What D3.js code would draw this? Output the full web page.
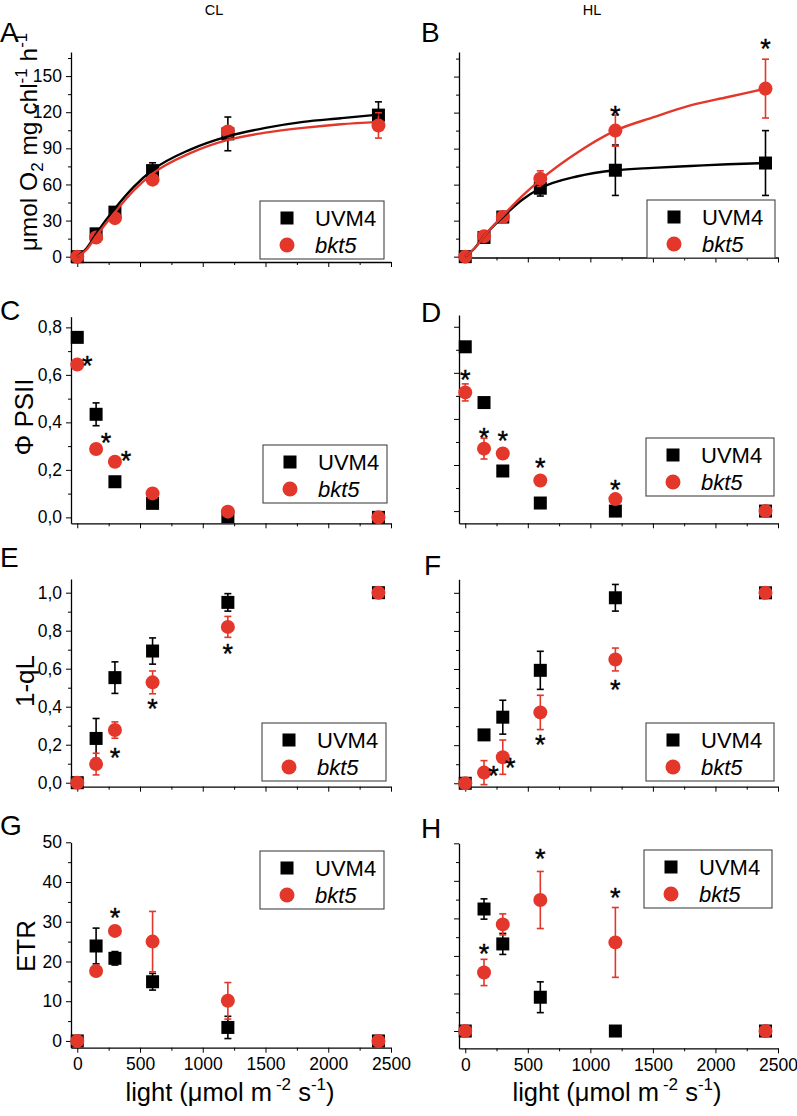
<!DOCTYPE html>
<html><head><meta charset="utf-8">
<script src="https://cdn.jsdelivr.net/npm/d3@7"></script>
<style>
body{margin:0;background:#fff}
text{font-family:Arial,"Liberation Sans",Helvetica,sans-serif;fill:#000}
</style>
</head><body>
<svg id="chart" width="797" height="1116"></svg>
<script>
// ---------------- DATA ----------------
const light = [0, 150, 300, 600, 1200, 2400];
const seriesNames = ["UVM4", "bkt5"];
const columnTitles = ["CL", "HL"];
const xTickValues = [0, 500, 1000, 1500, 2000, 2500];
const xTickLabels = ["0", "500", "1000", "1500", "2000", "2500"];

// O2 evolution (A: CL, B: HL)
const A_uvm4 = [0, 19, 37, 71.5, 102, 117.6];
const A_uvm4_err = [0, 2, 2, 6.5, 14, 11];
const A_bkt5 = [0, 16, 32, 64, 104, 109];
const A_bkt5_err = [0, 1, 1, 3, 3, 10.5];
const B_uvm4 = [0, 16, 33, 57, 72, 78];
const B_uvm4_err = [0, 1, 2, 6.5, 21, 27];
const B_bkt5 = [0, 17, 33, 65, 105, 140];
const B_bkt5_err = [0, 1, 2, 6.5, 13, 24.5];
// fitted curves
const fitLight = [0, 75, 150, 300, 450, 600, 900, 1200, 1500, 1800, 2100, 2400];
const A_fit_uvm4 = [0, 7, 19, 40, 58, 72, 89, 100, 107, 112, 115, 118];
const A_fit_bkt5 = [0, 6, 17, 37, 55, 69, 86, 97, 103, 107, 110, 112];
const B_fit_uvm4 = [0, 7, 17, 33, 47, 57, 67, 72, 74, 75.5, 77, 78];
const B_fit_bkt5 = [0, 7, 17, 34, 50, 64, 87, 105, 116, 126, 133, 140];

// Phi PSII (C: CL, D: HL)
const C_uvm4 = [0.758, 0.434, 0.15, 0.059, 0.003, 0.0];
const C_uvm4_err = [0.005, 0.048, 0.01, 0.015, 0.01, 0];
const C_bkt5 = [0.644, 0.288, 0.234, 0.101, 0.024, 0.0];
const C_bkt5_err = [0.01, 0.01, 0.01, 0.02, 0.01, 0];
const D_uvm4 = [0.713, 0.471, 0.174, 0.035, 0.0, 0.0];
const D_uvm4_err = [0.005, 0.005, 0.01, 0.005, 0, 0];
const D_bkt5 = [0.515, 0.271, 0.25, 0.133, 0.052, 0.0];
const D_bkt5_err = [0.037, 0.045, 0.01, 0.01, 0.01, 0];

// 1-qL (E: CL, F: HL)
const E_uvm4 = [0, 0.233, 0.553, 0.693, 0.949, 1.0];
const E_uvm4_err = [0, 0.105, 0.083, 0.069, 0.046, 0];
const E_bkt5 = [0, 0.098, 0.277, 0.528, 0.82, 1.0];
const E_bkt5_err = [0, 0.057, 0.043, 0.06, 0.055, 0];
const F_uvm4 = [0, 0.254, 0.347, 0.593, 0.974, 1.0];
const F_uvm4_err = [0, 0.02, 0.089, 0.1, 0.07, 0];
const F_bkt5 = [0, 0.056, 0.137, 0.372, 0.65, 1.0];
const F_bkt5_err = [0, 0.063, 0.09, 0.09, 0.06, 0];

// ETR (G: CL, H: HL)
const G_uvm4 = [0, 23.9, 20.8, 14.9, 3.4, 0];
const G_uvm4_err = [0, 4.5, 1.7, 2.1, 2.8, 0];
const G_bkt5 = [0, 17.6, 27.7, 25.0, 10.1, 0];
const G_bkt5_err = [0, 0.5, 0.5, 7.6, 4.6, 0];
const H_uvm4 = [0, 32.5, 23.2, 9.0, 0, 0];
const H_uvm4_err = [0, 2.7, 2.8, 4.1, 0, 0];
const H_bkt5 = [0, 15.6, 28.4, 34.9, 23.6, 0];
const H_bkt5_err = [0, 3.5, 2.8, 7.6, 9.3, 0];

// significance asterisks [light, value]
const B_stars = [[1200, 122.3], [2400, 177.8]];
const C_stars = [[80, 0.662], [229, 0.337], [388, 0.262]];
const D_stars = [[0, 0.597], [150, 0.343], [300, 0.329], [600, 0.213], [1200, 0.119]];
const E_stars = [[300, 0.163], [600, 0.418], [1200, 0.707]];
const F_stars = [[226, 0.07], [359, 0.113], [600, 0.232], [1200, 0.519]];
const G_stars = [[300, 32.4]];
const H_stars = [[150, 22.1], [600, 47.4], [1200, 37.1]];

const yTicks_O2 = [0, 30, 60, 90, 120, 150];
const yTicks_PSII = [0, 0.2, 0.4, 0.6, 0.8];
const yTicks_qL = [0, 0.2, 0.4, 0.6, 0.8, 1.0];
const yTicks_ETR = [0, 10, 20, 30, 40, 50];

// ---------------- STYLE / LAYOUT ----------------
const RED = "#e2372a", BLACK = "#000";
const cols = [{x0: 71, x1: 391}, {x0: 459, x1: 778}];
const xDomain = [-50, 2500];
const commaFmt = d => d.toFixed(1).replace(".", ",");
const intFmt = d => String(d);

const panels = [
  {letter: "A", col: 0, top: 52, bottom: 262, ydom: [-4.4, 170], ticks: yTicks_O2, minor: 15, fmt: intFmt,
   u: A_uvm4, ue: A_uvm4_err, b: A_bkt5, be: A_bkt5_err, fitU: A_fit_uvm4, fitB: A_fit_bkt5, stars: [],
   legend: [260, 201], letterPos: [0, 42]},
  {letter: "B", col: 1, top: 52, bottom: 257.5, ydom: [-0.7, 170.5], ticks: yTicks_O2, minor: 15, fmt: intFmt,
   u: B_uvm4, ue: B_uvm4_err, b: B_bkt5, be: B_bkt5_err, fitU: B_fit_uvm4, fitB: B_fit_bkt5, stars: B_stars,
   legend: [647, 200], letterPos: [421, 42]},
  {letter: "C", col: 0, top: 316.7, bottom: 523.3, ydom: [-0.025, 0.845], ticks: yTicks_PSII, minor: 0.1, fmt: commaFmt,
   u: C_uvm4, ue: C_uvm4_err, b: C_bkt5, be: C_bkt5_err, stars: C_stars, legend: [263, 445], letterPos: [0, 320]},
  {letter: "D", col: 1, top: 315, bottom: 523.3, ydom: [-0.053, 0.851], ticks: yTicks_PSII, minor: 0.1, fmt: commaFmt,
   u: D_uvm4, ue: D_uvm4_err, b: D_bkt5, be: D_bkt5_err, stars: D_stars, legend: [646, 438], letterPos: [421, 322]},
  {letter: "E", col: 0, top: 579, bottom: 786.7, ydom: [-0.021, 1.072], ticks: yTicks_qL, minor: 0.1, fmt: commaFmt,
   u: E_uvm4, ue: E_uvm4_err, b: E_bkt5, be: E_bkt5_err, stars: E_stars, legend: [262, 723], letterPos: [0, 567]},
  {letter: "F", col: 1, top: 579.3, bottom: 786.7, ydom: [-0.018, 1.071], ticks: yTicks_qL, minor: 0.1, fmt: commaFmt,
   u: F_uvm4, ue: F_uvm4_err, b: F_bkt5, be: F_bkt5_err, stars: F_stars, legend: [646, 723], letterPos: [424, 575]},
  {letter: "G", col: 0, top: 842.3, bottom: 1047.7, ydom: [-1.7, 50], ticks: yTicks_ETR, minor: 5, fmt: intFmt,
   u: G_uvm4, ue: G_uvm4_err, b: G_bkt5, be: G_bkt5_err, stars: G_stars, legend: [260, 851], letterPos: [0, 835]},
  {letter: "H", col: 1, top: 843.3, bottom: 1048.3, ydom: [-4.6, 50], ticks: yTicks_ETR, minor: 5, fmt: intFmt,
   u: H_uvm4, ue: H_uvm4_err, b: H_bkt5, be: H_bkt5_err, stars: H_stars, legend: [644, 850], letterPos: [421, 838]}
];

const svg = d3.select("#chart");

// column titles
svg.selectAll("text.coltitle").data(columnTitles).join("text")
  .attr("class", "coltitle")
  .attr("x", (d, i) => i === 0 ? 214 : 592).attr("y", 15)
  .attr("text-anchor", "middle").attr("font-size", 14.5).text(d => d);

function minorValues(dom, step, majors) {
  const out = [];
  const start = Math.ceil(dom[0] / step - 1e-9);
  for (let k = start; k * step <= dom[1] + 1e-9; k++) {
    const v = +(k * step).toFixed(6);
    if (!majors.some(m => Math.abs(m - v) < 1e-9)) out.push(v);
  }
  return out;
}

panels.forEach(p => {
  const c = cols[p.col];
  const x = d3.scaleLinear().domain(xDomain).range([c.x0, c.x1]);
  const y = d3.scaleLinear().domain(p.ydom).range([p.bottom, p.top]);
  const g = svg.append("g");
  const isBottom = p.letter === "G" || p.letter === "H";

  // axes
  const yMinor = minorValues(p.ydom, p.minor, p.ticks);
  g.append("g").attr("transform", `translate(${c.x0},0)`)
    .call(d3.axisLeft(y).tickValues(yMinor).tickSize(3).tickSizeOuter(0).tickFormat(""))
    .call(a => a.select(".domain").remove());
  const ya = g.append("g").attr("transform", `translate(${c.x0},0)`)
    .call(d3.axisLeft(y).tickValues(p.ticks).tickSize(5).tickSizeOuter(0).tickPadding(4)
      .tickFormat(p.col === 0 ? p.fmt : ""));
  const xMinor = [250, 750, 1250, 1750, 2250];
  g.append("g").attr("transform", `translate(0,${p.bottom})`)
    .call(d3.axisBottom(x).tickValues(xMinor).tickSize(3).tickSizeOuter(0).tickFormat(""))
    .call(a => a.select(".domain").remove());
  const xa = g.append("g").attr("transform", `translate(0,${p.bottom})`)
    .call(d3.axisBottom(x).tickValues(xTickValues).tickSize(5).tickSizeOuter(0).tickPadding(5)
      .tickFormat(isBottom ? ((d, i) => xTickLabels[i]) : ""));
  g.selectAll(".domain").attr("stroke", "#000").attr("stroke-width", 1.3);
  g.selectAll(".tick line").attr("stroke", "#000").attr("stroke-width", 1);
  ya.selectAll(".tick text").attr("font-size", 17.5).attr("font-family", "Arial, 'Liberation Sans', sans-serif");
  xa.selectAll(".tick text").attr("font-size", 17.5).attr("font-family", "Arial, 'Liberation Sans', sans-serif");

  // panel letter
  svg.append("text").attr("x", p.letterPos[0]).attr("y", p.letterPos[1])
    .attr("font-size", 28).text(p.letter);

  // error bars helper
  function errBars(vals, errs, color) {
    const d = light.map((l, i) => ({l, v: vals[i], e: errs[i]})).filter(o => o.e > 0);
    const eg = g.append("g").attr("stroke", color).attr("stroke-width", 1.6).attr("fill", "none");
    eg.selectAll("line.v").data(d).join("line")
      .attr("x1", o => x(o.l)).attr("x2", o => x(o.l))
      .attr("y1", o => y(o.v - o.e)).attr("y2", o => y(o.v + o.e));
    eg.selectAll("line.t").data(d).join("line")
      .attr("x1", o => x(o.l) - 3.5).attr("x2", o => x(o.l) + 3.5)
      .attr("y1", o => y(o.v + o.e)).attr("y2", o => y(o.v + o.e));
    eg.selectAll("line.b").data(d).join("line")
      .attr("x1", o => x(o.l) - 3.5).attr("x2", o => x(o.l) + 3.5)
      .attr("y1", o => y(o.v - o.e)).attr("y2", o => y(o.v - o.e));
  }

  errBars(p.u, p.ue, BLACK);
  g.selectAll("rect.sq").data(p.u).join("rect")
    .attr("x", (d, i) => x(light[i]) - 6.5).attr("y", d => y(d) - 6.5)
    .attr("width", 13).attr("height", 13).attr("fill", BLACK);
  errBars(p.b, p.be, RED);
  g.selectAll("circle.ci").data(p.b).join("circle")
    .attr("cx", (d, i) => x(light[i])).attr("cy", d => y(d)).attr("r", 7).attr("fill", RED);

  // fit curves
  if (p.fitU) {
    const line = d3.line().x((d, i) => x(fitLight[i])).y(d => y(d)).curve(d3.curveMonotoneX);
    g.append("path").datum(p.fitU).attr("d", line).attr("fill", "none").attr("stroke", BLACK).attr("stroke-width", 2.4);
    g.append("path").datum(p.fitB).attr("d", line).attr("fill", "none").attr("stroke", RED).attr("stroke-width", 2.4);
  }

  // stars
  g.selectAll("text.star").data(p.stars).join("text")
    .attr("x", d => x(d[0])).attr("y", d => y(d[1]) + 15)
    .attr("text-anchor", "middle").attr("font-size", 27)
    .attr("stroke", "#000").attr("stroke-width", 0.4).text("*");

  // legend
  const [lx, ly] = p.legend;
  const lg = svg.append("g");
  lg.append("rect").attr("x", lx).attr("y", ly).attr("width", p.col === 0 ? 124 : 128).attr("height", 58)
    .attr("fill", "#fff").attr("stroke", "#444").attr("stroke-width", 1.1);
  lg.append("rect").attr("x", lx + 27 - 6.5).attr("y", ly + 17 - 6.5).attr("width", 13).attr("height", 13).attr("fill", BLACK);
  lg.append("circle").attr("cx", lx + 27).attr("cy", ly + 44).attr("r", 7.5).attr("fill", RED);
  lg.append("text").attr("x", lx + 55).attr("y", ly + 17).attr("dy", "0.36em").attr("font-size", 22).text(seriesNames[0]);
  lg.append("text").attr("x", lx + 55).attr("y", ly + 44).attr("dy", "0.36em").attr("font-size", 22)
    .attr("font-style", "italic").text(seriesNames[1]);
});

// y-axis titles
function rotLabel(xb, yc, fs, parts) {
  const t = svg.append("text").attr("transform", `translate(${xb},${yc}) rotate(-90)`)
    .attr("text-anchor", "middle").attr("font-size", fs);
  parts.forEach(pt => {
    const s = t.append("tspan").text(pt.t);
    if (pt.dy) s.attr("dy", pt.dy);
    if (pt.fs) s.attr("font-size", pt.fs);
  });
}
rotLabel(37, 142, 24.5, [
  {t: "μmol O"}, {t: "2", dy: 6, fs: 17}, {t: " mg chl", dy: -6}, {t: "-1", dy: -10, fs: 17},
  {t: " h", dy: 10}, {t: "-1", dy: -10, fs: 17}
]);
rotLabel(33, 417, 26, [{t: "Φ PSII"}]);
rotLabel(34, 681, 26, [{t: "1-qL"}]);
rotLabel(35, 946, 26, [{t: "ETR"}]);

// x-axis titles
[230, 617].forEach(cx => {
  const t = svg.append("text").attr("x", cx).attr("y", 1101).attr("text-anchor", "middle").attr("font-size", 25.5);
  t.append("tspan").text("light (μmol m");
  t.append("tspan").attr("dx", 4).attr("dy", -11).attr("font-size", 17).text("-2");
  t.append("tspan").attr("dy", 11).text(" s");
  t.append("tspan").attr("dy", -11).attr("font-size", 17).text("-1");
  t.append("tspan").attr("dy", 11).text(")");
});
</script>
</body></html>
